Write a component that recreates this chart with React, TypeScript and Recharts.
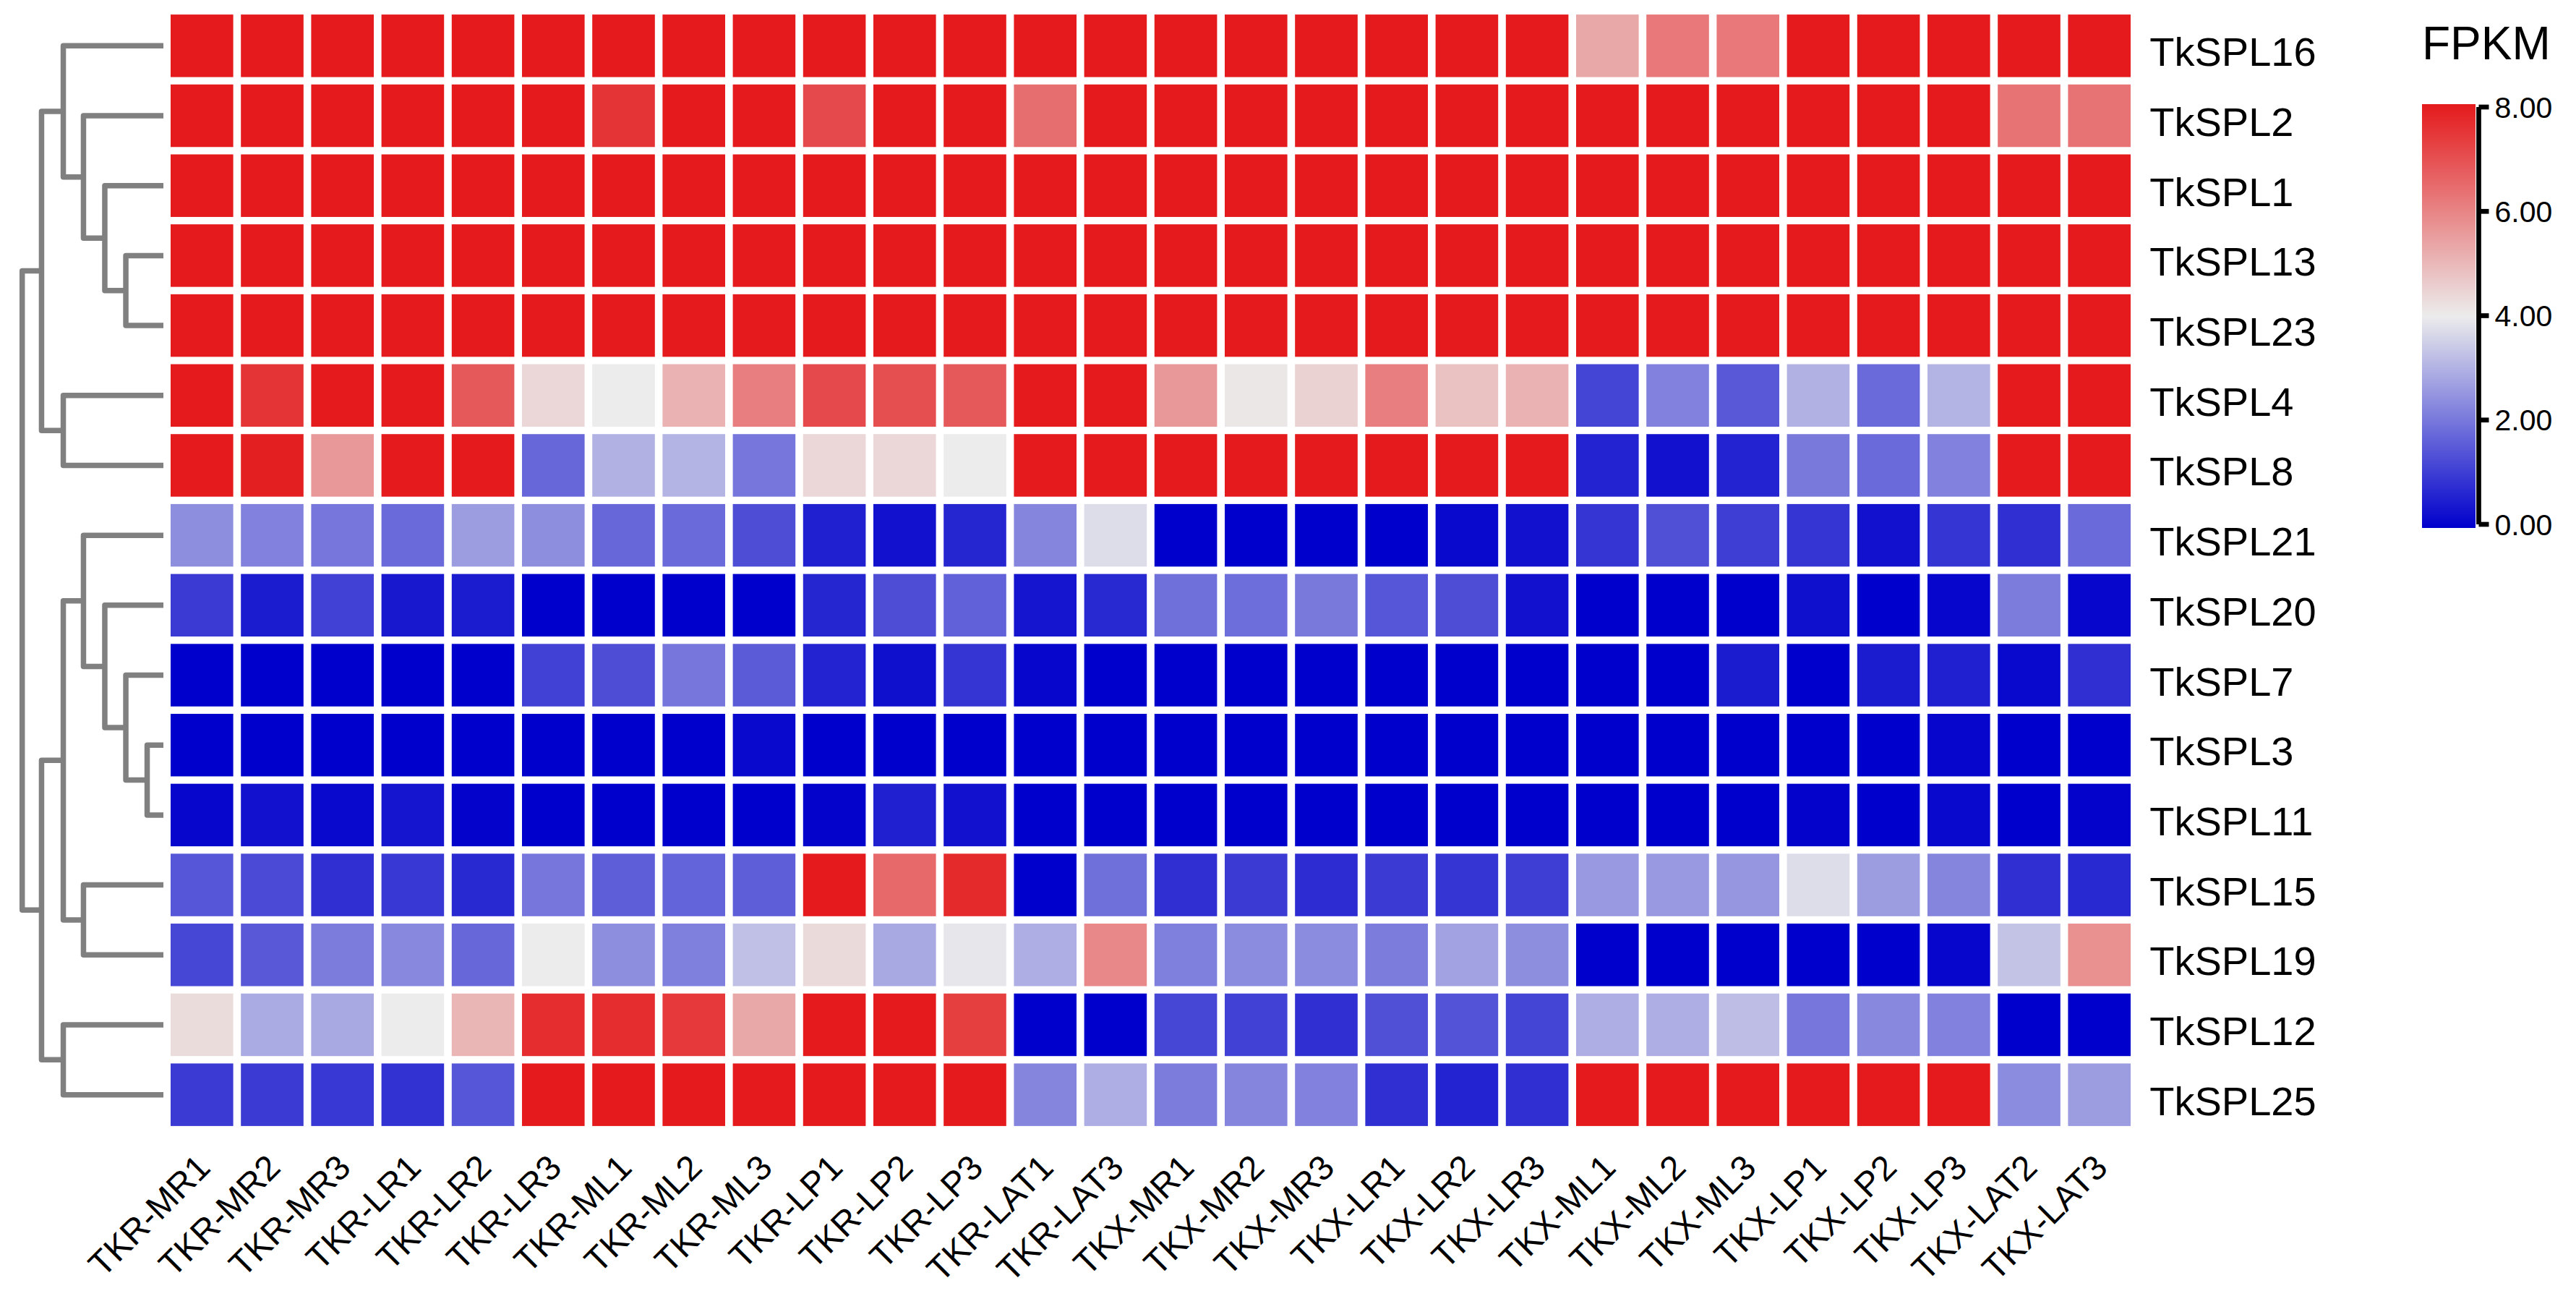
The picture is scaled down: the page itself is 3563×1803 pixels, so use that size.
import React from 'react';
import { ScatterChart, Scatter, XAxis, YAxis, BarChart, Bar } from 'recharts';

const FONT = "'Liberation Sans', Arial, sans-serif";

const samples = [
  'TKR-MR1', 'TKR-MR2', 'TKR-MR3', 'TKR-LR1', 'TKR-LR2', 'TKR-LR3', 'TKR-ML1', 'TKR-ML2',
  'TKR-ML3', 'TKR-LP1', 'TKR-LP2', 'TKR-LP3', 'TKR-LAT1', 'TKR-LAT3', 'TKX-MR1', 'TKX-MR2',
  'TKX-MR3', 'TKX-LR1', 'TKX-LR2', 'TKX-LR3', 'TKX-ML1', 'TKX-ML2', 'TKX-ML3', 'TKX-LP1',
  'TKX-LP2', 'TKX-LP3', 'TKX-LAT2', 'TKX-LAT3',
];

const genes = [
  'TkSPL16', 'TkSPL2', 'TkSPL1', 'TkSPL13', 'TkSPL23', 'TkSPL4', 'TkSPL8', 'TkSPL21',
  'TkSPL20', 'TkSPL7', 'TkSPL3', 'TkSPL11', 'TkSPL15', 'TkSPL19', 'TkSPL12', 'TkSPL25',
];

// FPKM (scale saturates at 8)
const TkSPL16 = [8, 8, 8, 8, 8, 8, 8, 8, 8, 8, 8, 8, 8, 8, 8, 8, 8, 8, 8, 8, 5.3, 6.2, 6.2, 8, 8, 8, 8, 8];
const TkSPL2 = [8, 8, 8, 8, 8, 8, 7.5, 8, 8, 7.1, 8, 8, 6.4, 8, 8, 8, 8, 8, 8, 8, 8, 8, 8, 8, 8, 8, 6.3, 6.3];
const TkSPL1 = [8, 8, 8, 8, 8, 8, 8, 8, 8, 8, 8, 8, 8, 8, 8, 8, 8, 8, 8, 8, 8, 8, 8, 8, 8, 8, 8, 8];
const TkSPL13 = [8, 8, 8, 8, 8, 8, 8, 8, 8, 8, 8, 8, 8, 8, 8, 8, 8, 8, 8, 8, 8, 8, 8, 8, 8, 8, 8, 8];
const TkSPL23 = [8, 8, 8, 8, 8, 8, 8, 8, 8, 8, 8, 8, 8, 8, 8, 8, 8, 8, 8, 8, 8, 8, 8, 8, 8, 8, 8, 8];
const TkSPL4 = [8, 7.5, 8, 8, 6.8, 4.4, 4.0, 5.1, 6.1, 7.1, 7.0, 6.8, 8, 8, 5.6, 4.1, 4.5, 6.1, 4.8, 5.1, 1.15, 2.2, 1.5, 3.0, 1.8, 3.05, 8, 8];
const TkSPL8 = [8, 7.9, 5.6, 8, 8, 1.75, 3.0, 3.05, 2.0, 4.4, 4.4, 4.0, 8, 8, 8, 8, 8, 8, 8, 8, 0.6, 0.3, 0.6, 2.05, 1.8, 2.2, 8, 8];
const TkSPL21 = [2.4, 2.2, 2.0, 1.8, 2.65, 2.4, 1.75, 1.8, 1.3, 0.55, 0.3, 0.65, 2.25, 3.75, 0, 0, 0, 0, 0.15, 0.3, 0.9, 1.35, 1.05, 0.9, 0.3, 0.9, 0.8, 1.8];
const TkSPL20 = [1.0, 0.45, 1.1, 0.4, 0.45, 0, 0, 0, 0, 0.65, 1.3, 1.65, 0.35, 0.7, 1.9, 1.85, 2.05, 1.45, 1.3, 0.3, 0, 0, 0, 0.25, 0, 0.1, 2.1, 0.1];
const TkSPL7 = [0, 0, 0, 0, 0, 1.1, 1.3, 2.0, 1.55, 0.6, 0.25, 0.9, 0.1, 0, 0, 0, 0, 0, 0, 0, 0, 0, 0.45, 0, 0.45, 0.55, 0.15, 0.8];
const TkSPL3 = [0, 0, 0, 0, 0, 0, 0, 0, 0.15, 0, 0, 0, 0, 0, 0, 0, 0, 0, 0, 0, 0, 0, 0, 0, 0, 0.1, 0, 0];
const TkSPL11 = [0.1, 0.3, 0.15, 0.35, 0.05, 0, 0, 0, 0, 0.05, 0.55, 0.3, 0, 0, 0, 0, 0, 0, 0, 0, 0, 0, 0, 0.05, 0, 0.15, 0, 0.05];
const TkSPL15 = [1.45, 1.25, 0.8, 0.95, 0.7, 2.0, 1.6, 1.7, 1.6, 8, 6.5, 7.7, 0, 1.9, 0.8, 1.0, 0.75, 1.0, 0.9, 1.05, 2.6, 2.6, 2.55, 3.75, 2.65, 2.25, 0.8, 0.7];
const TkSPL19 = [1.2, 1.5, 2.1, 2.3, 1.75, 4.0, 2.4, 2.15, 3.25, 4.35, 2.85, 3.9, 2.95, 5.9, 2.15, 2.35, 2.35, 2.1, 2.75, 2.4, 0, 0, 0, 0, 0, 0.1, 3.3, 5.75];
const TkSPL12 = [4.3, 2.9, 2.85, 4.0, 5.05, 7.65, 7.65, 7.4, 5.3, 8, 8, 7.3, 0, 0, 1.2, 1.1, 0.8, 1.35, 1.4, 1.15, 2.95, 2.95, 3.2, 2.0, 2.3, 2.2, 0, 0];
const TkSPL25 = [1.0, 1.0, 0.95, 0.85, 1.45, 8, 8, 8, 8, 8, 8, 8, 2.25, 2.95, 2.1, 2.25, 2.2, 0.8, 0.6, 0.8, 8, 8, 8, 8, 8, 8, 2.35, 2.65];

const fpkmRows = [
  TkSPL16, TkSPL2, TkSPL1, TkSPL13, TkSPL23, TkSPL4, TkSPL8, TkSPL21,
  TkSPL20, TkSPL7, TkSPL3, TkSPL11, TkSPL15, TkSPL19, TkSPL12, TkSPL25,
];

// row clustering: [child, child, height]; "mN" = N-th merge above
const dendroMerges: [string, string, number][] = [
  ['TkSPL13', 'TkSPL23', 0.266], // m0
  ['TkSPL1', 'm0', 0.415],       // m1
  ['TkSPL2', 'm1', 0.566],       // m2
  ['TkSPL16', 'm2', 0.709],      // m3
  ['TkSPL4', 'TkSPL8', 0.709],   // m4
  ['m3', 'm4', 0.863],           // m5
  ['TkSPL3', 'TkSPL11', 0.115],  // m6
  ['TkSPL7', 'm6', 0.266],       // m7
  ['TkSPL20', 'm7', 0.415],      // m8
  ['TkSPL21', 'm8', 0.566],      // m9
  ['TkSPL15', 'TkSPL19', 0.566], // m10
  ['m9', 'm10', 0.709],          // m11
  ['TkSPL12', 'TkSPL25', 0.709], // m12
  ['m11', 'm12', 0.863],         // m13
  ['m5', 'm13', 1.0],            // m14
];

const colorbarTicks = [0, 2, 4, 6, 8];
const colorbarData = [{ name: 'FPKM', max: 8 }];

// colour scale
const LOW = [0, 0, 204];
const MID = [236, 236, 236];
const HIGH = [228, 26, 28];
const fpkmColor = (v: number) => {
  const t = Math.max(0, Math.min(8, v));
  const [a, b, f] = t < 4 ? [LOW, MID, t / 4] : [MID, HIGH, (t - 4) / 4];
  const c = a.map((x, i) => Math.round(x + (b[i] - x) * f));
  return `rgb(${c[0]},${c[1]},${c[2]})`;
};

// layout
const W = 3563;
const H = 1803;
const PLOT = { left: 230.7, right: 2952.3, top: 15, bottom: 1562 };
const colPitch = (PLOT.right - PLOT.left) / samples.length;
const rowPitch = (PLOT.bottom - PLOT.top) / genes.length;
const CELL_W = colPitch - 10.6;
const CELL_H = rowPitch - 10.2;

const cells = fpkmRows.flatMap((row, r) =>
  row.map((v, c) => ({ x: c + 0.5, y: r + 0.5, v }))
);
const colTicks = samples.map((_, i) => i + 0.5);
const rowTicks = genes.map((_, i) => i + 0.5);

// dendrogram links as elbow polylines
const dendroLinks = (() => {
  const nodes: Record<string, { pos: number; h: number }> = {};
  genes.forEach((g, i) => { nodes[g] = { pos: i + 0.5, h: 0 }; });
  return dendroMerges.map(([a, b, h], i) => {
    const na = nodes[a];
    const nb = nodes[b];
    nodes['m' + i] = { pos: (na.pos + nb.pos) / 2, h };
    return [
      { x: na.h, y: na.pos },
      { x: h, y: na.pos },
      { x: h, y: nb.pos },
      { x: nb.h, y: nb.pos },
    ];
  });
})();

const CellShape = (props: any) => {
  const { cx, cy, payload } = props;
  return (
    <rect x={cx - CELL_W / 2} y={cy - CELL_H / 2} width={CELL_W} height={CELL_H} fill={fpkmColor(payload.v)} />
  );
};

const RowTick = (props: any) => {
  const { x, y, payload } = props;
  return (
    <text x={x + 21} y={y + 28} fontSize={56} fontFamily={FONT} fill="#000" textAnchor="start">
      {genes[Math.floor(payload.value)]}
    </text>
  );
};

const ColTick = (props: any) => {
  const { x, y, payload } = props;
  const ax = x + 14;
  const ay = y + 55;
  return (
    <text x={ax} y={ay} fontSize={48} fontFamily={FONT} fill="#000" textAnchor="end" transform={`rotate(-45, ${ax}, ${ay})`}>
      {samples[Math.floor(payload.value)]}
    </text>
  );
};

const Blank = () => <g />;

export default function App() {
  return (
    <div style={{ position: 'absolute', left: 0, top: 0, width: W, height: H, background: '#fff' }}>
      {/* heatmap */}
      <div style={{ position: 'absolute', left: 0, top: 0 }}>
        <ScatterChart
          width={W}
          height={H}
          margin={{ top: PLOT.top, left: PLOT.left, right: W - PLOT.right - 300, bottom: H - PLOT.bottom - 200 }}
        >
          <XAxis
            type="number"
            dataKey="x"
            domain={[0, samples.length]}
            ticks={colTicks}
            interval={0}
            height={200}
            axisLine={false}
            tickLine={false}
            tickSize={0}
            tickMargin={0}
            tick={(p: any) => <ColTick {...p} />}
          />
          <YAxis
            type="number"
            dataKey="y"
            domain={[0, genes.length]}
            reversed
            orientation="right"
            ticks={rowTicks}
            interval={0}
            width={300}
            axisLine={false}
            tickLine={false}
            tickSize={0}
            tickMargin={0}
            tick={(p: any) => <RowTick {...p} />}
          />
          <Scatter data={cells} shape={CellShape} isAnimationActive={false} />
        </ScatterChart>
      </div>

      {/* row dendrogram */}
      <div style={{ position: 'absolute', left: 0, top: 0 }}>
        <ScatterChart
          width={260}
          height={H}
          margin={{ top: PLOT.top, left: 30.7, right: 260 - 226, bottom: H - PLOT.bottom }}
        >
          <XAxis type="number" dataKey="x" domain={[0, 1]} reversed hide />
          <YAxis type="number" dataKey="y" domain={[0, genes.length]} reversed hide />
          {dendroLinks.map((pts, i) => (
            <Scatter
              key={i}
              data={pts}
              shape={Blank}
              line={{ stroke: '#808080', strokeWidth: 7.5, strokeLinejoin: 'round' }}
              lineType="joint"
              isAnimationActive={false}
            />
          ))}
        </ScatterChart>
      </div>

      {/* colour bar */}
      <div style={{ position: 'absolute', left: 3300, top: 100 }}>
        <BarChart
          width={263}
          height={700}
          data={colorbarData}
          margin={{ top: 48, left: 50, right: 24.5, bottom: 75 }}
          barCategoryGap={0}
        >
          <defs>
            <linearGradient id="fpkmGrad" x1="0" y1="0" x2="0" y2="1">
              <stop offset="0%" stopColor={fpkmColor(8)} />
              <stop offset="50%" stopColor={fpkmColor(4)} />
              <stop offset="100%" stopColor={fpkmColor(0)} />
            </linearGradient>
          </defs>
          <XAxis dataKey="name" hide />
          <YAxis
            orientation="right"
            domain={[0, 8]}
            ticks={colorbarTicks}
            interval={0}
            width={110}
            tickFormatter={(v: number) => v.toFixed(2)}
            axisLine={{ stroke: '#000', strokeWidth: 6.7 }}
            tickLine={{ stroke: '#000', strokeWidth: 6.7 }}
            tickSize={14}
            tickMargin={8}
            tick={{ fill: '#000', fontSize: 41, fontFamily: FONT }}
          />
          <Bar
            dataKey="max"
            isAnimationActive={false}
            shape={(p: any) => (
              <rect x={p.x} y={p.y - 4} width={74} height={p.height + 9} fill="url(#fpkmGrad)" />
            )}
          />
        </BarChart>
      </div>

      <svg style={{ position: 'absolute', left: 3340, top: 20 }} width={220} height={80}>
        <text x={10} y={62} fontSize={64} fontFamily={FONT} fill="#000">FPKM</text>
      </svg>
    </div>
  );
}
